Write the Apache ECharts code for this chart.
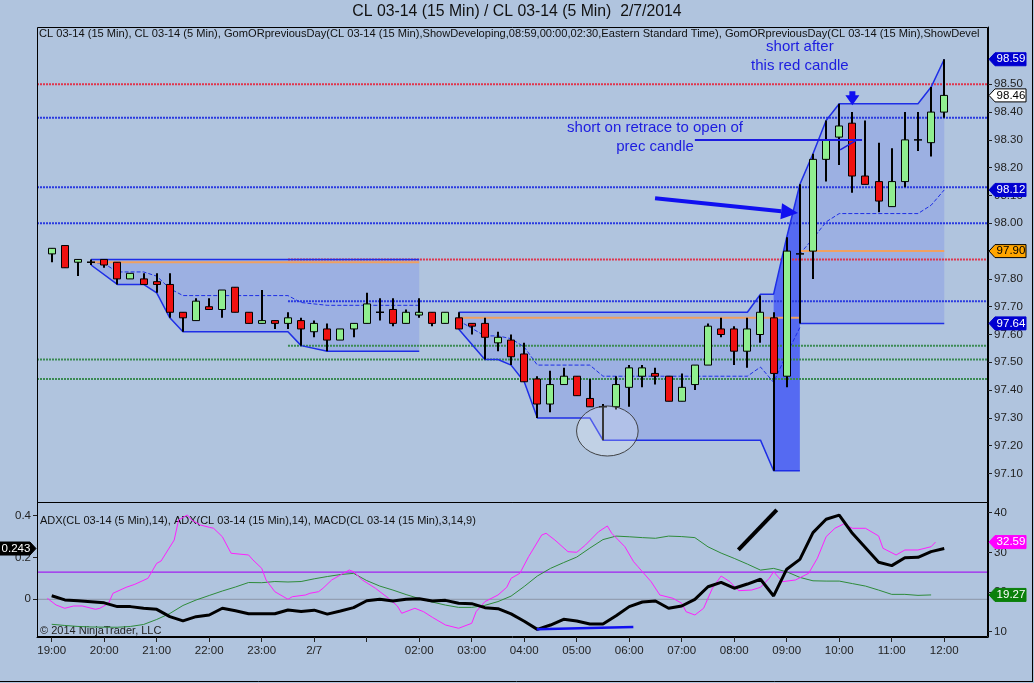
<!DOCTYPE html>
<html>
<head>
<meta charset="utf-8">
<title>CL 03-14 (15 Min) / CL 03-14 (5 Min)  2/7/2014</title>
<script src="https://cdn.jsdelivr.net/npm/echarts@6/dist/echarts.min.js"></script>
<style>
html, body { margin: 0; padding: 0; background: #b0c4de; }
#main { width: 1034px; height: 683px; }
</style>
</head>
<body>
<div id="main"></div>
<script>
// x is minutes after 19:00 (2/6), one 15 min bar every 15 minutes up to 12:00
var barMinutes = [];
for (var b = 0; b < 69; b++) barMinutes.push(b * 15);

var opens  = [97.89,97.92,97.86,97.86,97.87,97.86,97.80,97.80,97.79,97.78,
              97.68,97.65,97.70,97.69,97.77,97.68,97.64,97.65,97.64,97.65,
              97.61,97.62,97.58,97.62,97.64,97.68,97.69,97.64,97.67,97.68,
              97.64,97.66,97.64,97.64,97.57,97.58,97.53,97.44,97.35,97.42,
              97.45,97.37,97.34,97.34,97.41,97.45,97.46,97.45,97.36,97.42,
              97.49,97.62,97.62,97.54,97.60,97.66,97.45,97.89,97.90,98.23,
              98.31,98.36,98.17,98.15,98.06,98.15,98.30,98.29,98.40];
var highs  = [97.91,97.92,97.87,97.87,97.87,97.86,97.82,97.82,97.82,97.82,
              97.68,97.73,97.73,97.76,97.77,97.68,97.76,97.65,97.68,97.66,
              97.65,97.64,97.62,97.64,97.75,97.73,97.73,97.69,97.73,97.68,
              97.68,97.68,97.64,97.66,97.61,97.60,97.57,97.45,97.47,97.48,
              97.45,97.44,97.35,97.45,97.49,97.49,97.48,97.45,97.46,97.49,
              97.64,97.66,97.63,97.66,97.74,97.68,97.95,98.14,98.25,98.37,
              98.43,98.40,98.37,98.29,98.27,98.40,98.40,98.49,98.59];
var lows   = [97.86,97.84,97.81,97.85,97.84,97.78,97.80,97.78,97.75,97.66,
              97.61,97.65,97.69,97.66,97.68,97.64,97.64,97.62,97.62,97.56,
              97.59,97.54,97.58,97.59,97.64,97.65,97.63,97.64,97.66,97.63,
              97.64,97.62,97.60,97.51,97.54,97.49,97.43,97.30,97.32,97.42,
              97.38,97.34,97.22,97.33,97.34,97.41,97.42,97.36,97.36,97.40,
              97.49,97.59,97.49,97.48,97.57,97.11,97.41,97.64,97.80,98.15,
              98.21,98.11,98.14,98.04,98.06,98.13,98.26,98.24,98.38];
var closes = [97.91,97.84,97.87,97.86,97.85,97.80,97.82,97.78,97.78,97.68,
              97.66,97.72,97.69,97.76,97.68,97.64,97.65,97.64,97.66,97.62,
              97.64,97.58,97.62,97.64,97.71,97.68,97.64,97.68,97.68,97.64,
              97.68,97.62,97.63,97.59,97.59,97.52,97.43,97.35,97.42,97.45,
              97.38,97.34,97.34,97.42,97.48,97.48,97.45,97.36,97.41,97.49,
              97.63,97.60,97.54,97.62,97.68,97.46,97.90,97.89,98.23,98.30,
              98.35,98.17,98.14,98.08,98.15,98.30,98.30,98.40,98.46];

// opening range (GomORpreviousDay) lines, [minute, price]
var orHighA = [[45,97.87],[420,97.87]];
var devLowA = [[45,97.85],[75,97.78],[105,97.78],[120,97.75],[135,97.66],[150,97.61],[270,97.61],[285,97.56],[315,97.54],[420,97.54]];
var midA    = [[45,97.86],[60,97.855],[75,97.825],[105,97.825],[120,97.81],[135,97.765],[150,97.74],[270,97.74],[285,97.715],[315,97.705],[420,97.705]];
var openA   = [[45,97.86],[420,97.86]];
var devHigh = [[465,97.68],[795,97.68],[810,97.745],[825,97.745],[840,97.95],[855,98.14],[870,98.25],[885,98.37],[900,98.43],[990,98.43],[1005,98.49],[1020,98.59]];
var devLowB = [[465,97.62],[495,97.51],[510,97.51],[525,97.49],[540,97.43],[555,97.30],[615,97.30],[630,97.22],[810,97.22],[825,97.11],[855,97.11]];
var midB    = [[465,97.65],[495,97.595],[510,97.595],[525,97.585],[540,97.555],[555,97.49],[615,97.49],[630,97.45],[795,97.45],[810,97.483],[825,97.428],[840,97.53],[855,97.625]];
var openB   = [[465,97.66],[855,97.66]];
var lowC    = [[855,97.64],[1020,97.64]];
var midC    = [[855,97.89],[870,97.945],[885,98.005],[900,98.035],[990,98.035],[1005,98.065],[1020,98.12]];
var openC   = [[855,97.90],[1020,97.90]];

// previous day levels (dotted), start minute (null = whole width)
var levelValues = [98.50, 98.38, 98.13, 98.00, 97.87, 97.72, 97.56, 97.51, 97.44];
var levelStarts = [null, null, null, null, 270, 270, 270, null, null];
var levelColors = ['#e0354c', '#2a3ae0', '#2a3ae0', '#2a3ae0', '#e0354c', '#2a3ae0', '#3a8a52', '#3a8a52', '#3a8a52'];

// lower panel
var macd = [0.017,-0.003,-0.007,-0.012,-0.017,-0.035,-0.035,-0.043,-0.048,-0.083,
            -0.103,-0.083,-0.075,-0.043,-0.055,-0.069,-0.069,-0.069,-0.051,-0.058,
            -0.052,-0.071,-0.056,-0.040,-0.007,0.000,-0.008,0.000,0.003,-0.008,
            -0.005,-0.019,-0.021,-0.040,-0.045,-0.070,-0.105,-0.144,-0.123,-0.096,
            -0.104,-0.118,-0.118,-0.079,-0.035,-0.013,-0.008,-0.043,-0.032,0.000,
            0.060,0.081,0.053,0.073,0.096,0.016,0.144,0.191,0.319,0.383,
            0.403,0.316,0.247,0.177,0.161,0.199,0.201,0.228,0.243];
var adx15 = [11.87,11.57,11.32,11.19,11.14,11.12,11.32,11.82,13.08,14.59,
             16.61,17.99,19.13,20.26,21.27,22.40,22.35,22.65,22.53,22.65,
             23.33,23.91,24.41,24.71,22.89,21.50,20.49,19.36,18.35,17.47,
             16.71,16.13,16.13,16.64,17.59,18.98,21.40,24.04,25.96,27.42,
             28.81,31.08,33.22,34.10,33.93,33.72,33.55,34.10,33.98,33.72,
             31.40,29.82,28.48,27.05,25.53,25.96,25.10,23.69,22.83,22.76,
             22.76,22.13,21.50,20.49,19.41,19.41,19.16,19.27];
var adx5Minutes = [-5,5,15,25,35,50,55,65,70,85,95,110,120,125,140,145,155,160,170,180,
                   185,195,205,225,230,240,245,255,270,275,290,295,305,310,320,330,340,345,355,370,
                   385,395,400,415,425,435,450,465,480,485,495,510,520,525,535,545,560,565,575,590,
                   600,610,625,635,640,655,665,670,685,695,710,720,725,735,745,755,765,775,785,800,
                   810,820,825,835,850,865,875,885,895,905,915,930,945,950,965,975,990,1005,1010];
var adx5Values = [18.42,16.73,15.90,16.48,16.48,15.65,15.90,17.16,19.68,21.19,21.95,23.46,27.24,27.82,33.12,38.16,39.42,38.16,36.90,36.32,
                  36.07,33.95,29.77,29.34,28.08,25.98,23.04,20.09,18.17,18.83,19.25,19.68,20.09,20.94,23.04,24.30,25.56,25.13,23.04,20.94,
                  18.42,16.48,14.64,15.90,15.04,13.63,11.69,10.86,12.12,15.04,17.57,19.25,21.19,23.46,24.72,28.91,34.38,34.81,33.12,30.17,
                  30.02,31.86,35.21,36.65,34.81,31.43,27.65,26.39,22.61,19.25,18.42,17.16,15.04,14.21,15.90,20.94,24.04,22.61,20.34,20.51,
                  21.19,23.46,25.13,22.61,23.04,24.72,28.51,33.95,36.07,37.15,36.07,36.07,34.13,31.03,29.34,30.60,30.60,31.43,32.59];
var adxLevel = 25;

// axis ticks
var hourTicks = [0,60,120,180,240,300,360,420,480,540,600,660,720,780,840,900,960,1020];
var hourLabels = ['19:00','20:00','21:00','22:00','23:00','2/7','','02:00','03:00','04:00','05:00','06:00','07:00','08:00','09:00','10:00','11:00','12:00'];
var priceTicks = [97.10,97.20,97.30,97.40,97.50,97.60,97.70,97.80,97.90,98.00,98.10,98.20,98.30,98.40,98.50];
var macdTicks = [0, 0.2, 0.4];
var adxTicks = [10, 20, 30, 40];

// drawings on the chart, in [minute, price] / [minute, indicator]
var noteTexts = ['short after\nthis red candle', 'short on retrace to open of\nprec candle'];
var noteTextAt = [[855, 98.60], [689.5, 98.31]];
var noteLines = [[[735, 98.30], [926, 98.30]], [[901, 98.264], [920.4, 98.30]]];
var noteArrow = [[689.5, 98.09], [853, 98.037]];
var noteDown = [915, 98.425];
var circleAt = [635, 97.253];
var circleR = [35.2, 0.09];
var adxTrendLine = [[784.7, 30.6], [828.6, 40.7]];
var macdLowLine = [[554.3, -0.1435], [664.7, -0.132]];

var xMin = -16.8, xMax = 1070;
var font = 'Arial, "Liberation Sans", sans-serif';
var orBlue = '#1e2ee6';
var noteBlue = '#1c1ce0';

function between(pts, a, b) {
    return pts.filter(function (p) { return p[0] >= a && p[0] <= b; });
}

var fillShapes = [
    { top: orHighA, bottom: devLowA, color: 'rgba(96,116,240,0.25)' },
    { top: between(devHigh, 465, 825), bottom: between(devLowB, 465, 825), color: 'rgba(96,116,240,0.25)' },
    { top: between(devHigh, 825, 855), bottom: between(devLowB, 825, 855), color: 'rgba(50,70,250,0.72)' },
    { top: between(devHigh, 855, 1020), bottom: lowC, color: 'rgba(96,116,240,0.25)' }
];

function plotLine(pts, color, width, dash, xi, yi, z) {
    return {
        type: 'line', xAxisIndex: xi || 0, yAxisIndex: yi || 0, data: pts,
        symbol: 'none', showSymbol: false, silent: true, z: z || 3,
        lineStyle: { color: color, width: width, type: dash || 'solid' }
    };
}

var series = [];

// shaded opening range
series.push({
    type: 'custom', xAxisIndex: 0, yAxisIndex: 0, silent: true, z: 1,
    data: fillShapes.map(function () { return [0, 97.5]; }),
    renderItem: function (params, api) {
        var s = fillShapes[params.dataIndex];
        var pts = s.top.map(function (p) { return api.coord(p); });
        s.bottom.slice().reverse().forEach(function (p) { pts.push(api.coord(p)); });
        return { type: 'polygon', shape: { points: pts }, style: { fill: s.color } };
    }
});

// dotted levels
levelValues.forEach(function (v, i) {
    var s = levelStarts[i] === null ? xMin : levelStarts[i];
    series.push(plotLine([[s, v], [xMax, v]], levelColors[i], 2, [2, 1], 0, 0, 2));
});

// opening range lines
series.push(plotLine(orHighA, orBlue, 1.5));
series.push(plotLine(devLowA, orBlue, 1.5));
series.push(plotLine(midA, orBlue, 1, [4, 2]));
series.push(plotLine(openA, '#f0a060', 2));
series.push(plotLine(devHigh, orBlue, 1.5));
series.push(plotLine(devLowB, orBlue, 1.5));
series.push(plotLine(midB, orBlue, 1, [4, 2]));
series.push(plotLine(openB, '#f0a060', 2));
series.push(plotLine(lowC, orBlue, 1.5));
series.push(plotLine(midC, orBlue, 1, [4, 2]));
series.push(plotLine(openC, '#f0a060', 2));

// candles
series.push({
    type: 'custom', xAxisIndex: 0, yAxisIndex: 0, silent: true, z: 5,
    data: barMinutes.map(function (m, i) { return [m, opens[i], highs[i], lows[i], closes[i]]; }),
    encode: { x: 0, y: [1, 2, 3, 4] },
    renderItem: function (params, api) {
        var m = api.value(0);
        var o = api.coord([m, api.value(1)]);
        var h = api.coord([m, api.value(2)]);
        var l = api.coord([m, api.value(3)]);
        var c = api.coord([m, api.value(4)]);
        var x = Math.round(o[0]);
        var kids = [{ type: 'line', shape: { x1: x, y1: h[1], x2: x, y2: l[1] }, style: { stroke: '#000', lineWidth: 2 } }];
        if (api.value(1) === api.value(4)) {
            kids.push({ type: 'line', shape: { x1: x - 4, y1: o[1], x2: x + 4, y2: o[1] }, style: { stroke: '#000', lineWidth: 1.5 } });
        } else {
            var up = api.value(4) > api.value(1);
            var top = Math.min(o[1], c[1]);
            kids.push({
                type: 'rect', shape: { x: x - 3.5, y: top, width: 7, height: Math.max(Math.abs(o[1] - c[1]), 2) },
                style: { fill: up ? '#90ee90' : '#f01010', stroke: '#000', lineWidth: 1 }
            });
        }
        return { type: 'group', children: kids };
    }
});

// drawings
series.push({
    type: 'custom', xAxisIndex: 0, yAxisIndex: 0, silent: true, z: 6, clip: false,
    data: [[0, 97.5]],
    renderItem: function (params, api) {
        var kids = [];
        noteTexts.forEach(function (t, i) {
            var p = api.coord(noteTextAt[i]);
            kids.push({ type: 'text', x: p[0], y: p[1], style: {
                text: t, fill: noteBlue, fontSize: 15, fontFamily: font,
                align: 'center', verticalAlign: 'middle', lineHeight: 19 } });
        });
        noteLines.forEach(function (ln, i) {
            var a = api.coord(ln[0]), b2 = api.coord(ln[1]);
            kids.push({ type: 'line', shape: { x1: a[0], y1: a[1], x2: b2[0], y2: b2[1] },
                style: { stroke: noteBlue, lineWidth: i === 0 ? 2 : 1.5 } });
        });
        var a0 = api.coord(noteArrow[0]), a1 = api.coord(noteArrow[1]);
        var dx = a1[0] - a0[0], dy = a1[1] - a0[1], len = Math.sqrt(dx * dx + dy * dy);
        var ux = dx / len, uy = dy / len;
        var bx = a1[0] - ux * 17, by = a1[1] - uy * 17;
        kids.push({ type: 'line', shape: { x1: a0[0], y1: a0[1], x2: bx, y2: by }, style: { stroke: '#1010f0', lineWidth: 4 } });
        kids.push({ type: 'polygon', shape: { points: [[a1[0], a1[1]], [bx - uy * 8, by + ux * 8], [bx + uy * 8, by - ux * 8]] }, style: { fill: '#1010f0' } });
        var d = api.coord(noteDown);
        kids.push({ type: 'polygon', shape: { points: [[d[0] - 3, d[1] - 14], [d[0] + 3, d[1] - 14], [d[0] + 3, d[1] - 10], [d[0] + 7, d[1] - 10], [d[0], d[1]], [d[0] - 7, d[1] - 10], [d[0] - 3, d[1] - 10]] }, style: { fill: '#1010f0' } });
        var c0 = api.coord(circleAt);
        var ce = api.coord([circleAt[0] + circleR[0], circleAt[1] + circleR[1]]);
        var rx = Math.abs(ce[0] - c0[0]), ry = Math.abs(ce[1] - c0[1]);
        kids.push({ type: 'circle', x: c0[0], y: c0[1], scaleY: ry / rx, shape: { cx: 0, cy: 0, r: rx },
            style: { fill: 'rgba(255,255,255,0.22)', stroke: '#333', lineWidth: 1, strokeNoScale: true } });
        return { type: 'group', children: kids };
    }
});

// lower panel
series.push(plotLine([[xMin, adxLevel], [xMax, adxLevel]], '#a020f0', 1.2, 'solid', 1, 2, 2));
series.push(plotLine([[xMin, 0], [xMax, 0]], '#8c96a8', 1, 'solid', 1, 1, 2));
series.push(plotLine(adx15.map(function (v, i) { return [barMinutes[i], v]; }), '#2e8b3a', 1, 'solid', 1, 2, 3));
series.push(plotLine(adx5Minutes.map(function (m, i) { return [m, adx5Values[i]]; }), '#ff20ff', 1, 'solid', 1, 2, 4));
series.push(plotLine(macd.map(function (v, i) { return [barMinutes[i], v]; }), '#000', 3, 'solid', 1, 1, 5));
series.push(plotLine(adxTrendLine, '#000', 4, 'solid', 1, 2, 6));
series.push(plotLine(macdLowLine, '#1010f0', 2.5, 'solid', 1, 1, 6));

// price / value tags on the axes
function tagSeries(xi, yi, values, texts, styles, side) {
    return {
        type: 'custom', xAxisIndex: xi, yAxisIndex: yi, silent: true, z: 20, clip: false,
        data: values.map(function (v) { return [xMax, v]; }),
        renderItem: function (params, api) {
            var st = styles[params.dataIndex];
            var y = api.coord([xMax, api.value(1)])[1];
            var cs = params.coordSys;
            var pts, tx;
            if (side === 'right') {
                var x0 = cs.x + cs.width + 1;
                pts = [[x0, y], [x0 + 6, y - 6.5], [x0 + 37, y - 6.5], [x0 + 37, y + 6.5], [x0 + 6, y + 6.5]];
                tx = x0 + 22;
            } else {
                var x1 = cs.x - 1;
                pts = [[x1, y], [x1 - 6, y - 6.5], [0, y - 6.5], [0, y + 6.5], [x1 - 6, y + 6.5]];
                tx = (x1 - 6) / 2 + 1;
            }
            return { type: 'group', children: [
                { type: 'polygon', shape: { points: pts }, style: { fill: st[0], stroke: st[2], lineWidth: 1 } },
                { type: 'text', x: tx, y: y, style: { text: texts[params.dataIndex], fill: st[1], fontSize: 11.5, fontFamily: font, align: 'center', verticalAlign: 'middle' } }
            ] };
        }
    };
}

var priceTagValues = [devHigh[devHigh.length - 1][1], closes[closes.length - 1], midC[midC.length - 1][1], openC[0][1], lowC[0][1]];
series.push(tagSeries(0, 0, priceTagValues, priceTagValues.map(function (v) { return v.toFixed(2); }),
    [['#0000d0', '#fff', '#0000d0'], ['#fff', '#000', '#000'], ['#0000d0', '#fff', '#0000d0'], ['#ffa500', '#000', '#000'], ['#0000d0', '#fff', '#0000d0']], 'right'));
var adxTagValues = [adx5Values[adx5Values.length - 1], adx15[adx15.length - 1]];
series.push(tagSeries(1, 2, adxTagValues, adxTagValues.map(function (v) { return v.toFixed(2); }),
    [['#ff00ff', '#fff', '#ff00ff'], ['#0a800a', '#fff', '#0a800a']], 'right'));
var macdTagValues = [macd[macd.length - 1]];
series.push(tagSeries(1, 1, macdTagValues, macdTagValues.map(function (v) { return v.toFixed(3); }),
    [['#000', '#fff', '#000']], 'left'));

var axisText = { color: '#222', fontSize: 11.5, fontFamily: font };

var option = {
    backgroundColor: '#b0c4de',
    animation: false,
    grid: [
        { left: 37, top: 27, width: 951, height: 476 },
        { left: 37, top: 503, width: 951, height: 134 }
    ],
    xAxis: [
        { type: 'value', gridIndex: 0, min: xMin, max: xMax, show: false },
        { type: 'value', gridIndex: 1, min: xMin, max: xMax,
          axisLine: { show: true, onZero: false, lineStyle: { color: '#000' } },
          axisTick: { show: true, customValues: hourTicks, length: 5, lineStyle: { color: '#222' } },
          axisLabel: Object.assign({ customValues: hourTicks, margin: 8,
              formatter: function (v) { var k = hourTicks.indexOf(v); return k >= 0 ? hourLabels[k] : ''; } }, axisText),
          splitLine: { show: false } }
    ],
    yAxis: [
        { type: 'value', gridIndex: 0, position: 'right', min: 96.994, max: 98.706,
          axisLine: { show: true, onZero: false, lineStyle: { color: '#000' } },
          axisTick: { show: true, customValues: priceTicks, length: 4, lineStyle: { color: '#222' } },
          axisLabel: Object.assign({ customValues: priceTicks, margin: 6, formatter: function (v) { return v.toFixed(2); } }, axisText),
          splitLine: { show: false } },
        { type: 'value', gridIndex: 1, position: 'left', min: -0.1804, max: 0.4608,
          axisLine: { show: true, onZero: false, lineStyle: { color: '#000' } },
          axisTick: { show: true, customValues: macdTicks, length: 4, lineStyle: { color: '#222' } },
          axisLabel: Object.assign({ customValues: macdTicks, margin: 6, formatter: function (v) { return String(v); } }, axisText),
          splitLine: { show: false } },
        { type: 'value', gridIndex: 1, position: 'right', min: 8.664, max: 42.445,
          axisLine: { show: true, onZero: false, lineStyle: { color: '#000' } },
          axisTick: { show: true, customValues: adxTicks, length: 4, lineStyle: { color: '#222' } },
          axisLabel: Object.assign({ customValues: adxTicks, margin: 6, formatter: function (v) { return String(v); } }, axisText),
          splitLine: { show: false } }
    ],
    graphic: [
        { type: 'text', left: 'center', top: 4, style: { text: 'CL 03-14 (15 Min) / CL 03-14 (5 Min)  2/7/2014', fill: '#111', fontSize: 15.8, fontFamily: font } },
        { type: 'text', x: 39, y: 34, style: { text: 'CL 03-14 (15 Min), CL 03-14 (5 Min), GomORpreviousDay(CL 03-14 (15 Min),ShowDeveloping,08:59,00:00,02:30,Eastern Standard Time), GomORpreviousDay(CL 03-14 (15 Min),ShowDeveloping,08:59,00:00,02:30,Eastern Standard Time)',
            width: 947, overflow: 'truncate', ellipsis: '', fill: '#111', fontSize: 11.1, fontFamily: font, verticalAlign: 'middle' } },
        { type: 'text', x: 40, y: 521, style: { text: 'ADX(CL 03-14 (5 Min),14), ADX(CL 03-14 (15 Min),14), MACD(CL 03-14 (15 Min),3,14,9)', fill: '#111', fontSize: 11, fontFamily: font, verticalAlign: 'middle' } },
        { type: 'text', x: 40, y: 631, style: { text: '\u00a9 2014 NinjaTrader, LLC', fill: '#222', fontSize: 11, fontFamily: font, verticalAlign: 'middle' } },
        { type: 'rect', shape: { x: 37.5, y: 27.5, width: 950, height: 475 }, style: { fill: 'none', stroke: '#000', lineWidth: 1 }, z: 50 },
        { type: 'rect', shape: { x: 37.5, y: 502.5, width: 950, height: 134 }, style: { fill: 'none', stroke: '#000', lineWidth: 1 }, z: 50 },
        { type: 'line', shape: { x1: 1032.5, y1: 0, x2: 1032.5, y2: 682 }, style: { stroke: '#000', lineWidth: 1 } },
        { type: 'line', shape: { x1: 0, y1: 681.5, x2: 1033, y2: 681.5 }, style: { stroke: '#000', lineWidth: 1 } }
    ],
    series: series
};

var chart = echarts.init(document.getElementById('main'));
chart.setOption(option);
</script>
</body>
</html>
